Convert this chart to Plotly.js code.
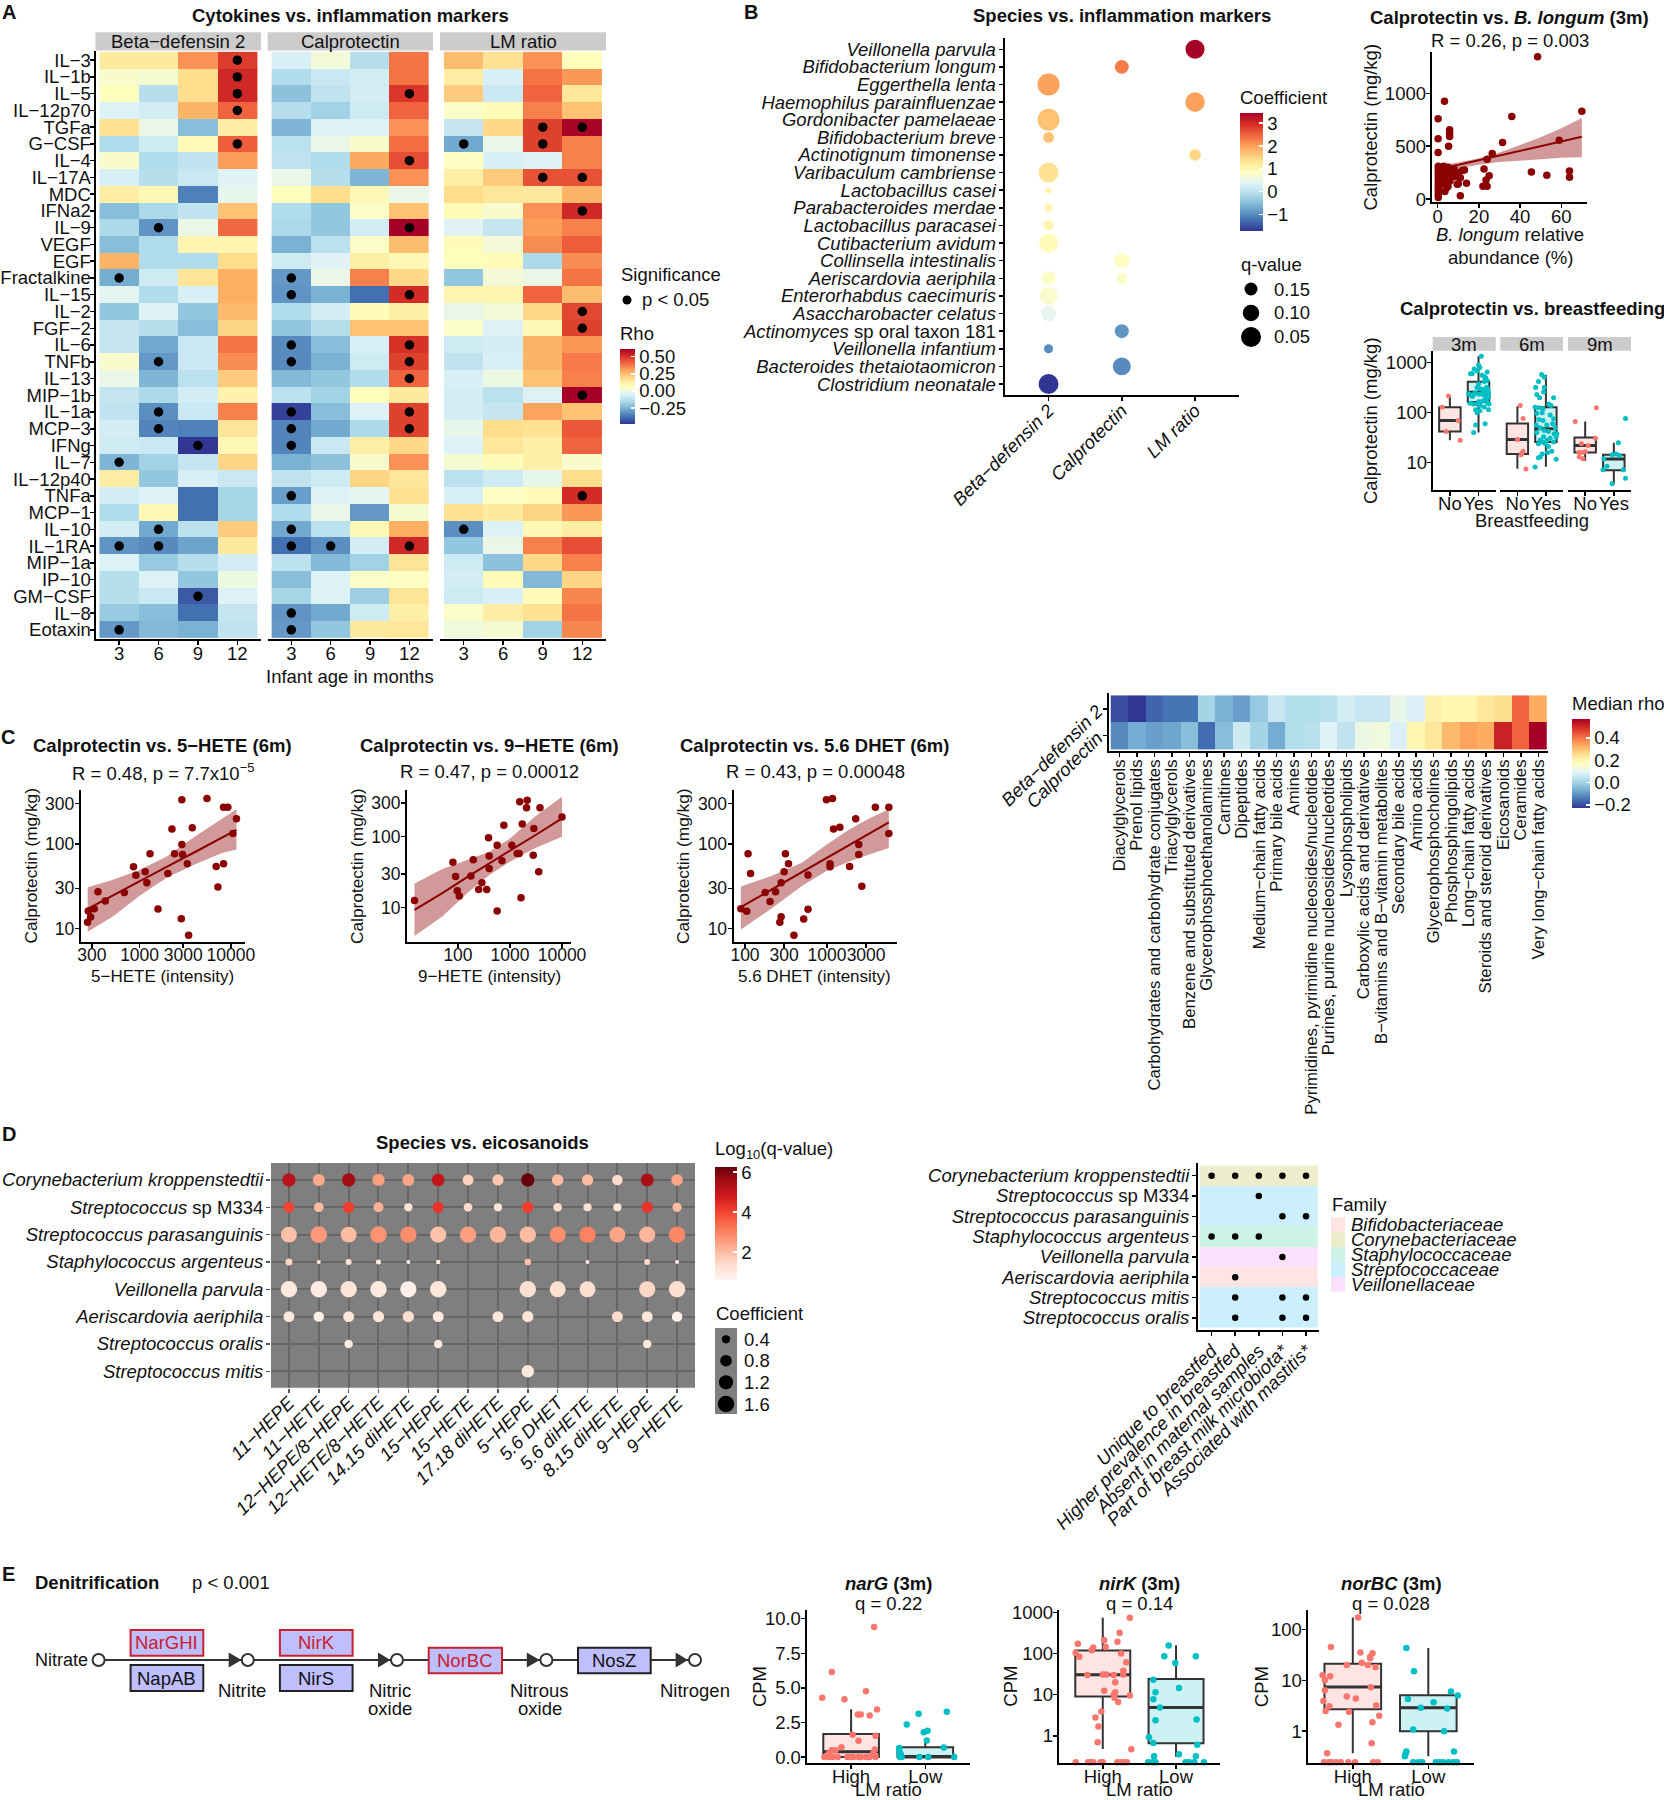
<!DOCTYPE html>
<html><head><meta charset="utf-8">
<script src="https://cdn.plot.ly/plotly-3.0.1.min.js"></script>
<style>html,body{margin:0;padding:0;background:#fff}</style></head>
<body><div id="chart" style="width:1664px;height:1800px"></div>
<script>
// ---------- Panel A data ----------
const cytokines=["IL−3","IL−1b","IL−5","IL−12p70","TGFa","G−CSF","IL−4","IL−17A","MDC","IFNa2","IL−9","VEGF","EGF","Fractalkine","IL−15","IL−2","FGF−2","IL−6","TNFb","IL−13","MIP−1b","IL−1a","MCP−3","IFNg","IL−7","IL−12p40","TNFa","MCP−1","IL−10","IL−1RA","MIP−1a","IP−10","GM−CSF","IL−8","Eotaxin"];
const ages=["3","6","9","12"];
const rhoBD=[[.14,.14,.33,.48],[.04,.03,.18,.52],[.07,-.13,.18,.52],[-.05,-.07,.27,.41],[.17,-.01,-.22,.13],[-.14,-.08,.08,.42],[.04,-.14,-.11,.31],[-.06,-.13,-.09,-.04],[.13,.09,-.35,-.02],[-.22,-.15,-.11,.24],[-.15,-.31,-.01,.4],[-.22,-.14,.1,.1],[.27,-.14,-.14,.18],[-.26,-.08,.16,.28],[-.03,-.14,-.06,.28],[-.2,-.05,-.2,.26],[-.1,-.13,-.22,.2],[-.1,-.27,-.09,.38],[.04,-.3,-.09,.34],[-.01,-.24,-.12,.22],[-.1,-.15,-.07,.11],[-.11,-.32,-.09,.36],[-.07,-.34,-.35,.16],[-.08,-.09,-.48,.09],[-.24,-.17,-.1,.2],[.13,-.2,-.06,-.09],[-.07,-.05,-.38,-.16],[-.14,.09,-.38,-.16],[-.07,-.27,-.12,.22],[-.31,-.33,-.28,.14],[-.05,-.19,-.13,-.07],[-.13,-.05,-.2,0],[-.13,-.09,-.42,-.05],[-.19,-.22,-.38,-.1],[-.3,-.23,-.25,-.11]];
const rhoCal=[[-.06,.02,-.13,.38],[-.14,-.09,-.07,.38],[-.21,-.11,-.07,.49],[-.13,-.17,-.08,.41],[-.24,-.05,-.05,.33],[-.12,-.01,.04,.39],[-.11,-.14,.29,.45],[-.01,-.13,-.24,.33],[.07,.18,.09,-.01],[-.14,-.2,.05,.24],[-.15,-.2,-.07,.61],[-.25,-.12,.05,.25],[-.08,-.04,.12,.09],[-.3,-.01,.36,.19],[-.31,-.25,-.38,.51],[-.14,-.07,.08,.12],[-.2,-.13,.24,.24],[-.33,-.22,-.06,.5],[-.33,-.25,-.08,.47],[-.23,-.2,-.14,.41],[-.12,-.17,.07,.14],[-.46,-.22,-.05,.47],[-.34,-.27,-.15,.47],[-.34,-.09,.12,.19],[-.25,-.21,.04,.33],[-.11,-.08,.2,.15],[-.29,-.05,-.03,.17],[-.14,-.01,-.3,.03],[-.27,-.12,.09,.28],[-.38,-.32,-.07,.52],[-.12,-.23,-.17,.16],[-.22,-.05,.05,.06],[-.16,-.05,-.18,.16],[-.31,-.27,-.08,.12],[-.3,-.2,.14,.15]];
const rhoLM=[[.25,.17,.33,.07],[.13,-.06,.38,.32],[.22,-.09,.41,.15],[.05,.08,.36,.24],[-.1,.19,.47,.6],[-.27,-.01,.47,.36],[.06,-.06,-.05,.36],[.12,.22,.44,.44],[.18,.15,.14,.27],[.08,.04,.33,.52],[-.04,-.1,.31,.36],[.08,.02,.34,.42],[.07,.08,-.15,.34],[-.2,.02,-.01,.38],[.1,.1,.41,.25],[-.01,.02,.19,.46],[.05,-.05,.09,.47],[-.08,-.07,.27,.32],[-.11,-.06,.27,.37],[-.06,0,.24,.36],[-.07,-.12,-.05,.61],[-.07,-.1,.3,.24],[-.02,.18,.17,.43],[-.05,.15,.12,.41],[.03,.08,.12,.04],[-.12,-.08,-.02,.18],[-.06,.06,.08,.51],[.17,.14,.2,.32],[-.32,-.05,.09,.13],[-.2,-.01,.36,.45],[-.08,-.21,.19,.36],[-.07,.08,-.23,.2],[-.08,-.06,.08,.35],[.05,.13,.17,.38],[.01,.03,-.17,.35]];
const sigBD=[["IL−3","12"],["IL−1b","12"],["IL−5","12"],["IL−12p70","12"],["G−CSF","12"],["IL−9","6"],["Fractalkine","3"],["TNFb","6"],["IL−1a","6"],["MCP−3","6"],["IFNg","9"],["IL−7","3"],["IL−10","6"],["IL−1RA","3"],["IL−1RA","6"],["GM−CSF","9"],["Eotaxin","3"]];
const sigCal=[["IL−5","12"],["IL−4","12"],["IL−9","12"],["Fractalkine","3"],["IL−15","3"],["IL−15","12"],["IL−6","3"],["IL−6","12"],["TNFb","3"],["TNFb","12"],["IL−13","12"],["IL−1a","3"],["IL−1a","12"],["MCP−3","3"],["MCP−3","12"],["IFNg","3"],["TNFa","3"],["IL−10","3"],["IL−1RA","3"],["IL−1RA","6"],["IL−1RA","12"],["IL−8","3"],["Eotaxin","3"]];
const sigLM=[["TGFa","9"],["TGFa","12"],["G−CSF","3"],["G−CSF","9"],["IL−17A","9"],["IL−17A","12"],["IFNa2","12"],["IL−2","12"],["FGF−2","12"],["MIP−1b","12"],["TNFa","12"],["IL−10","3"]];
// ---------- Panel B data ----------
const speciesB=["Veillonella parvula","Bifidobacterium longum","Eggerthella lenta","Haemophilus parainfluenzae","Gordonibacter pamelaeae","Bifidobacterium breve","Actinotignum timonense","Varibaculum cambriense","Lactobacillus casei","Parabacteroides merdae","Lactobacillus paracasei","Cutibacterium avidum","Collinsella intestinalis","Aeriscardovia aeriphila","Enterorhabdus caecimuris","Asaccharobacter celatus","Actinomyces sp oral taxon 181","Veillonella infantium","Bacteroides thetaiotaomicron","Clostridium neonatale"];
const markersB=["Beta−defensin 2","Calprotectin","LM ratio"];
const bubSpecies=["Veillonella parvula","Bifidobacterium longum","Eggerthella lenta","Haemophilus parainfluenzae","Gordonibacter pamelaeae","Bifidobacterium breve","Actinotignum timonense","Varibaculum cambriense","Lactobacillus casei","Parabacteroides merdae","Lactobacillus paracasei","Cutibacterium avidum","Collinsella intestinalis","Aeriscardovia aeriphila","Aeriscardovia aeriphila","Enterorhabdus caecimuris","Asaccharobacter celatus","Actinomyces sp oral taxon 181","Veillonella infantium","Bacteroides thetaiotaomicron","Clostridium neonatale"];
const bubMarker=["LM ratio","Calprotectin","Beta−defensin 2","LM ratio","Beta−defensin 2","Beta−defensin 2","LM ratio","Beta−defensin 2","Beta−defensin 2","Beta−defensin 2","Beta−defensin 2","Beta−defensin 2","Calprotectin","Beta−defensin 2","Calprotectin","Beta−defensin 2","Beta−defensin 2","Calprotectin","Beta−defensin 2","Calprotectin","Beta−defensin 2"];
const bubCoef=[3.46,2.3,2.0,2.0,1.7,1.7,1.5,1.35,1.1,1.05,1.05,.95,.85,.8,.8,.75,.45,-.9,-1.0,-1.0,-1.71];
const bubQ=[.064,.136,.02,.056,.02,.18,.17,.05,.25,.22,.19,.064,.12,.136,.18,.08,.12,.136,.207,.08,.05];
const longumPts=[[48.5,1345],[3.3,925],[.2,760],[70,830],[36,780],[5.8,655],[5.8,625],[5.8,590],[.2,570],[5.3,500],[.2,440],[31.5,535],[26.5,430],[24,375],[59,555],[22.5,285],[45.5,255],[53,225],[64,265],[64,205],[25,220],[23.5,180],[22,120],[24,120],[14,150],[11,30],[10,145],[9.5,140],[13,275],[12,270],[10,250],[9,240],[8,285],[7,270],[7,220],[6,170],[5,120],[4.5,110],[3.5,70],[3,310],[4,290],[5,300],[6,260],[2,280],[2,230],[2,180],[1,290],[1,240],[1,190],[1,130],[.3,310],[.3,280],[.3,250],[.3,220],[.3,190],[.3,160],[.3,130],[.3,100],[.3,70],[.3,40],[.3,15],[3,200],[3.5,150],[8,210],[4,230],[11,200]];
const longumFitX=[0,10,20,30,40,50,60,70];
const longumFit=[280,324,368,412,456,500,544,588];
const longumHi=[320,345,385,440,510,585,670,765];
const longumLo=[240,290,325,350,365,375,390,395];
// box stats: low, q1, median, q3, high
const bf3NoBox=[28,42,70,128,215], bf3YesBox=[40,163,255,417,1340];
const bf6NoBox=[7.6,15,29,61,135], bf6YesBox=[8.3,26,48,128,575];
const bf9NoBox=[11,16,22,32,67], bf9YesBox=[3.8,7.1,11.8,14.5,25];
const bf3NoPts=[[.95,215],[.73,128],[1.29,70],[.87,42],[1.36,28]];
const bf3YesPts=[[2.1,1340],[2,900],[2.05,800],[1.85,750],[1.95,680],[1.72,600],[1.78,600],[2.3,650],[2.12,560],[2.2,530],[2.25,500],[2.3,440],[2.2,420],[2,380],[1.95,320],[2.05,300],[2.28,320],[2.33,300],[2.15,290],[2.25,260],[2.35,250],[1.88,250],[1.65,240],[1.7,230],[1.78,210],[1.85,235],[2.02,235],[2.1,240],[2.18,230],[2.25,215],[2.35,210],[2.3,190],[2.2,180],[2.1,165],[2.3,160],[2.37,150],[2,165],[1.82,150],[1.7,155],[1.95,150],[2.05,140],[2.2,130],[2.35,115],[1.9,115],[2.05,110],[1.95,100],[1.9,57],[2.23,60],[1.83,40]];
const bf6NoPts=[[1.1,140],[1.2,77],[1,29],[1.2,17],[1.13,14.5],[1.15,15.5],[1.3,7.5]];
const bf6YesPts=[[1.85,580],[1.74,420],[1.94,510],[1.64,320],[1.94,320],[1.92,260],[1.68,230],[1.78,200],[2.27,200],[2.1,150],[2.18,140],[1.62,128],[1.76,125],[1.9,120],[1.68,97],[1.87,100],[2.15,90],[2.27,76],[1.76,73],[1.9,70],[1.66,57],[2.03,57],[1.8,50],[2.23,60],[2.33,50],[1.68,40],[1.94,44],[2.29,38],[2.38,38],[2.09,42],[1.92,33],[2.15,31],[2.36,33],[1.8,28],[2.03,28],[1.87,26],[2.27,26],[1.98,24],[1.74,24],[2.09,21],[2.21,17],[2.06,16],[1.87,15],[1.8,13],[1.74,12.5],[2.36,11.7],[1.62,8.2]];
const bf9NoPts=[[1.39,125],[.65,67],[1.36,31],[.87,24],[1.1,22],[.78,16],[.89,16],[1.01,16.5],[.79,13],[.92,12]];
const bf9YesPts=[[2.41,77],[2.16,25],[1.94,14.5],[2.08,15],[2.2,14],[1.65,12],[1.76,8.5],[1.62,7.2],[2.33,7.2],[2.41,4.9],[1.94,3.8]];
// ---------- Panel C data ----------
const hete5Pts=[[2900,333],[5470,346],[8300,272],[9250,272],[11500,199],[10500,133],[3770,156],[2260,151],[2900,99],[1300,76.6],[2410,76.6],[2950,75],[857,54],[3330,58.5],[8300,58.5],[6890,54.4],[911,42.9],[1150,47],[2040,44.8],[1200,35],[7200,31],[350,27.4],[680,26.7],[421,21.3],[319,17.2],[1590,17.1],[274,16.2],[291,13.8],[2860,13.1],[269,11.9],[3440,8.4]];
const hete5FitX=[270,500,1000,2000,4000,8000,11500];
const hete5Fit=[17.2,24.6,36.2,54,80,119,147];
const hete5Hi=[30.8,37.5,49.4,71.9,122,200,258];
const hete5Lo=[9.2,13.8,24.6,40.2,57.5,78.5,86];
const hete9Pts=[[1540,311],[2140,325],[2080,256],[3770,256],[10000,189],[2880,131],[1720,151],[762,145],[387,97],[566,75.6],[1084,75.6],[1500,58],[1380,58],[398,53.5],[2800,55],[197,47.4],[703,46],[80,43.5],[398,35.8],[90,27.4],[177,28],[3570,32],[288,22.5],[250,18],[357,18],[97,17.3],[106,14.6],[1630,13.8],[14.6,12.6],[566,9]];
const hete9FitX=[14.6,50,150,400,1000,3000,10000];
const hete9Fit=[9.3,16,27,42.6,63.6,104,181];
const hete9Hi=[22,35,47,61.5,94.6,191,366];
const hete9Lo=[4,7.5,16,28.8,44.5,68.6,100];
const dhetPts=[[984,333],[1167,346],[3890,272],[5680,272],[5680,133],[2240,199],[1436,158],[1200,151],[2440,99],[2440,75],[311,76.6],[109,76.6],[339,58.5],[1090,58.5],[1090,54],[1888,54.4],[117,45],[300,47],[587,43],[276,35],[2660,31.7],[176,26.7],[236,27.4],[202,21],[89,17.2],[105,16.1],[587,17],[276,13.9],[520,13],[266,11.9],[395,8.4]];
const dhetFitX=[89,209,494,984,1954,3270,5680];
const dhetFit=[18,28.9,46.4,68,99,132,180];
const dhetHi=[31.6,42,60,98,153,200,258];
const dhetLo=[9.8,17.2,32,48,63,75,90];
// ---------- Metabolite heat data ----------
const metabClasses=["Diacylglycerols","Prenol lipids","Carbohydrates and carbohydrate conjugates","Triacylglycerols","Benzene and substituted derivatives","Glycerophosphoethanolamines","Carnitines","Dipeptides","Medium−chain fatty acids","Primary bile acids","Amines","Pyrimidines, pyrimidine nucleosides/nucleotides","Purines, purine nucleosides/nucleotides","Lysophospholipids","Carboxylic acids and derivatives","B−vitamins and B−vitamin metabolites","Secondary bile acids","Amino acids","Glycerophosphocholines","Phosphosphingolipids","Long−chain fatty acids","Steroids and steroid derivatives","Eicosanoids","Ceramides","Very long−chain fatty acids"];
const metabMarkers=["Beta−defensin 2","Calprotectin"];
const medBD=[-.2,-.23,-.17,-.15,-.15,0,-.06,-.09,-.02,.05,.02,.02,.03,.07,.05,.05,.11,.08,.2,.19,.19,.23,.25,.42,.33];
const medCal=[-.12,-.07,-.09,-.08,-.04,-.16,-.04,.06,0,-.07,.02,.03,.09,.04,.12,.13,.08,.19,.23,.31,.34,.33,.51,.42,.567];
// ---------- Panel D data ----------
const speciesD=["Corynebacterium kroppenstedtii","Streptococcus sp M334","Streptococcus parasanguinis","Staphylococcus argenteus","Veillonella parvula","Aeriscardovia aeriphila","Streptococcus oralis","Streptococcus mitis"];
const eicosanoids=["11−HEPE","11−HETE","12−HEPE/8−HEPE","12−HETE/8−HETE","14.15 diHETE","15−HEPE","15−HETE","17.18 diHETE","5−HEPE","5.6 DHET","5.6 diHETE","8.15 diHETE","9−HEPE","9−HETE"];
const _=null;
const logQ=[[5.2,2.3,5.6,2.5,2.4,5,1.6,1.8,6.26,2,2,1.4,5.5,2.4],[4,2,4.1,2.2,1.2,4.3,1.4,1.2,4.1,1.4,1.3,1.2,4.3,2],[1.9,2.6,2,2.7,2.8,1.9,2.5,2.1,2,2.8,3,2.4,2.1,2.9],[1.5,.9,1.2,.9,.9,.9,_,_,1.9,_,.8,_,1.4,.8],[1,.95,1.2,1,.8,1.1,_,_,1.3,1.3,1.3,_,1.5,1.3],[1,.8,1.1,1.1,1.3,1,_,1.1,1.2,_,_,1.4,1.1,.8],[_,_,.9,_,_,1,_,_,_,_,_,_,1,_],[_,_,_,_,_,_,_,_,1,_,_,_,_,_]];
const coefD=[[1.05,.85,1.05,.9,.85,.95,.7,.75,1.05,.8,.75,.65,1,.8],[.7,.55,.75,.6,.4,.75,.45,.4,.75,.45,.4,.4,.75,.5],[1.5,1.65,1.5,1.65,1.6,1.55,1.6,1.6,1.6,1.55,1.6,1.5,1.55,1.6],[.29,.095,.21,.15,.095,.12,_,_,.25,_,.095,_,.21,.095],[1.6,1.6,1.6,1.6,1.55,1.6,_,_,1.6,1.5,1.5,_,1.55,1.6],[.7,.65,.7,.75,.75,.7,_,.7,.75,_,_,.7,.7,.65],[_,_,.43,_,_,.43,_,_,_,_,_,_,.43,_],[_,_,_,_,_,_,_,_,.92,_,_,_,_,_]];
const speciesF=["Corynebacterium kroppenstedtii","Streptococcus sp M334","Streptococcus parasanguinis","Staphylococcus argenteus","Veillonella parvula","Aeriscardovia aeriphila","Streptococcus mitis","Streptococcus oralis"];
const features=["Unique to breastfed","Higher prevalence in breastfed","Absent in maternal samples","Part of breast milk microbiota*","Associated with mastitis*"];
const families=["Bifidobacteriaceae","Corynebacteriaceae","Staphylococcaceae","Streptococcaceae","Veillonellaceae"];
const speciesFamily=[1,3,3,2,4,0,3,3];
const featureHits=[[1,1,1,1,1],[0,0,1,0,0],[0,0,0,1,1],[1,1,1,0,0],[0,0,0,1,0],[0,1,0,0,0],[0,1,0,1,1],[0,1,0,1,1]];
// ---------- Panel E data ----------
const narGHighBox=[0,0,.38,1.67,3.45], narGLowBox=[0,0,0,.7,1.15];
const nirKHighBox=[.48,9.1,30.7,118,741], nirKLowBox=[.31,.66,4.9,24,159];
const norBCHighBox=[.37,2.7,7.4,21,170], norBCLowBox=[.32,1,2.9,5.06,43];
const narGHighPts=[[1.31,9.4],[.74,6.14],[.61,4.29],[.91,4.17],[1.2,4.76],[1.35,3.44],[1.09,3.08],[1.13,3.08],[1.25,3],[1.02,1.61],[1.33,1.54],[1.1,1.18],[.87,.71],[1.32,.55],[.74,.5],[.79,.5],[.7,.26],[1.3,.3],[.64,0],[.7,0],[.75,0],[.82,0],[.95,0],[1,0],[1.03,0],[1.1,0],[1.13,0],[1.2,0],[1.22,0],[1.25,0],[1.33,0]];
const narGLowPts=[[2.29,3.27],[1.91,3.13],[1.75,2.35],[1.98,1.8],[2.03,1.9],[2.02,1.2],[2.25,.69],[1.65,.66],[1.65,.38],[1.67,.2],[1.66,0],[1.68,0],[1.92,0],[2.04,0],[2.39,0]];
const nirKHighPts=[[1.37,741],[1.23,319],[1.2,192],[1.02,211],[.66,172],[1.04,145],[.87,140],[.85,120],[.63,104],[.68,83],[1.25,100],[1.32,61],[1.28,38],[.79,30],[1.28,31],[1,31],[1.05,31],[1.15,30],[1.17,20],[1.02,12.5],[1.17,11.4],[1.15,10],[1.37,9.6],[1.16,8.4],[1.21,6.6],[.98,3.9],[.9,2.8],[.94,1.7],[.93,.7],[1.39,.47],[.63,.23],[.8,.23],[.83,.23],[.87,.23],[.97,.23],[1,.23],[1.2,.23],[1.25,.23],[1.28,.23],[1.33,.23]];
const nirKLowPts=[[1.9,156],[1.84,86],[2.27,86],[1.99,59],[1.69,23],[2.04,14.6],[1.72,11.4],[1.69,7.7],[1.78,4.9],[1.72,2.4],[2.28,2.5],[1.63,.93],[1.69,.67],[2.29,.61],[2.04,.36],[1.7,.32],[2.27,.32],[1.62,.23],[1.68,.23],[1.72,.23],[2.13,.23],[2.18,.23],[2.25,.23],[2.38,.23]];
const norBCHighPts=[[1.07,170],[.71,45],[1.1,35],[1.26,34],[1.23,29],[1.23,27],[1.12,22],[.92,20],[1.2,20],[1.3,18],[.6,12.5],[.7,12],[.63,10],[.63,6.4],[1.24,7.3],[.92,4.8],[1.04,4.4],[.61,3.9],[.69,3.1],[1.31,3.2],[.64,2.5],[.95,2.4],[1.35,2],[1.26,1.5],[.81,1.33],[1.25,.58],[.66,.37],[.62,.245],[.68,.245],[.72,.245],[.78,.245],[.84,.245],[.94,.245],[1.03,.245],[1.27,.245],[1.33,.245]];
const norBCLowPts=[[1.71,43],[1.81,15],[2.3,6],[2.39,5],[1.73,4.3],[2.07,3.7],[1.9,2.9],[2.25,2.8],[1.8,1.08],[2.21,1],[2.34,.4],[1.71,.4],[1.7,.36],[1.69,.32],[1.8,.245],[1.87,.245],[1.92,.245],[2.1,.245],[2.15,.245],[2.2,.245],[2.27,.245],[2.33,.245],[2.38,.245]];

// ---------- helpers ----------
const W=1664,H=1800,FONT='"Liberation Sans",Arial,Helvetica,sans-serif',INK='#111',FS=18.5;
const RDYLBU=['#313695','#4575b4','#74add1','#abd9e9','#e0f3f8','#ffffbf','#fee090','#fdae61','#f46d43','#d73027','#a50026'];
const REDS=['#fff5f0','#fee0d2','#fcbba1','#fc9272','#fb6a4a','#ef3b2c','#cb181d','#a50f15','#67000d'];
const scale=a=>a.map((c,i)=>[i/(a.length-1),c]);
const X=x=>x/W, Y=y=>1-y/H;
const traces=[],shapes=[],annotations=[],layout={};
const COMMON={showgrid:false,zeroline:false,showline:true,linecolor:'#000',linewidth:2,ticks:'outside',ticklen:4,tickwidth:1.5,tickcolor:'#000',tickangle:0,tickfont:{size:FS,color:INK,family:FONT}};
function axes(i,[l,r,t,b],xo,yo){
  const s=i===1?'':i;
  layout['xaxis'+s]=Object.assign({},COMMON,{domain:[X(l),X(r)],anchor:'y'+s,ticklabelstandoff:-8},xo);
  layout['yaxis'+s]=Object.assign({},COMMON,{domain:[Y(b),Y(t)],anchor:'x'+s,ticklabelstandoff:-4},yo);
  return {xaxis:'x'+s,yaxis:'y'+s};
}
const NOY={visible:false};
function T(x,y,text,o={}){
  annotations.push({xref:'paper',yref:'paper',x:X(x),y:Y(y),text:o.bold?`<b>${text}</b>`:text,showarrow:false,xanchor:o.anchor||'center',yanchor:'middle',textangle:o.rot||0,font:{size:o.size||FS,color:o.color||INK,family:FONT},borderpad:0,align:'center'});
}
function rect(x0,x1,y0,y1,fill,line,lw,layer){
  shapes.push({type:'rect',xref:'paper',yref:'paper',x0:X(x0),x1:X(x1),y0:Y(y0),y1:Y(y1),fillcolor:fill,line:{color:line||'rgba(0,0,0,0)',width:line?(lw||2):0},layer:layer||'below'});
}
function circle(cx,cy,d,fill,line){
  shapes.push({type:'circle',xref:'paper',yref:'paper',x0:X(cx-d/2),x1:X(cx+d/2),y0:Y(cy-d/2),y1:Y(cy+d/2),fillcolor:fill,line:{color:line||fill,width:line?2:0},layer:'above'});
}
function seg(x0,x1,y){shapes.push({type:'line',xref:'paper',yref:'paper',x0:X(x0),x1:X(x1),y0:Y(y),y1:Y(y),line:{color:'#333',width:2},layer:'above'});}
function tri(x0,x1,y,h){shapes.push({type:'path',xref:'paper',yref:'paper',path:`M ${X(x0)} ${Y(y-h)} L ${X(x1)} ${Y(y)} L ${X(x0)} ${Y(y+h)} Z`,fillcolor:'#333',line:{width:0},layer:'above'});}
const ital=n=>n.includes(' sp ')?n.replace(/^(\S+) sp (.*)$/,'<i>$1</i> sp $2'):`<i>${n}</i>`;
function cbar(x,top,bottom,thick,vals,labels,title,titleRoom){
  return {x:X(x),xanchor:'left',y:Y(bottom),yanchor:'bottom',len:bottom-top+(titleRoom||26),lenmode:'pixels',thickness:thick,thicknessmode:'pixels',outlinewidth:0,borderwidth:0,xpad:0,ypad:0,ticks:'inside',ticklen:4,tickcolor:'#fff',tickwidth:1.5,tickmode:'array',tickvals:vals,ticktext:labels,tickfont:{size:FS,color:INK,family:FONT},title:{text:title,side:'top',font:{size:FS,color:INK,family:FONT}}};
}
const xy=p=>({x:p.map(a=>a[0]),y:p.map(a=>a[1])});
function scatterFit(ax,pts,fx,fy,hi,lo){
  traces.push(Object.assign({type:'scatter',mode:'lines',x:fx.concat(fx.slice().reverse()),y:hi.concat(lo.slice().reverse()),fill:'toself',fillcolor:'rgba(139,0,0,.4)',line:{width:0},showlegend:false},ax));
  traces.push(Object.assign({type:'scatter',mode:'lines',x:fx,y:fy,line:{color:'#8B0000',width:2},showlegend:false},ax));
  traces.push(Object.assign({type:'scatter',mode:'markers',marker:{color:'#8B0000',size:7.5},showlegend:false,cliponaxis:false},xy(pts),ax));
}
const SALMON='#F8766D',TEAL='#00BFC4';
function boxWithPts(ax,pos,st,pts,col,fill,ms){
  traces.push(Object.assign({type:'box',x:[pos],lowerfence:[st[0]],q1:[st[1]],median:[st[2]],q3:[st[3]],upperfence:[st[4]],width:.75,whiskerwidth:0,fillcolor:fill,line:{color:'#333',width:2},boxpoints:false,showlegend:false},ax));
  traces.push(Object.assign({type:'scatter',mode:'lines',x:[pos-.375,pos+.375],y:[st[2],st[2]],line:{color:'#333',width:3},showlegend:false},ax));
  traces.push(Object.assign({type:'scatter',mode:'markers',marker:{color:col,size:ms},showlegend:false,cliponaxis:false},xy(pts),ax));
}
const F1='rgba(248,118,109,.2)',F2='rgba(0,191,196,.2)';

// ---------- Panel A ----------
T(9,12,'A',{bold:1,size:20});
T(350,16,'Cytokines vs. inflammation markers',{bold:1});
const aRange=[34.55,-.55], aBoxes=[[95.5,261],[267.7,433],[440,606]];
[[rhoBD,sigBD,'Beta−defensin 2'],[rhoCal,sigCal,'Calprotectin'],[rhoLM,sigLM,'LM ratio']].forEach(([z,sig,name],k)=>{
  const [l,r]=aBoxes[k];
  const ax=axes(k+1,[l,r,51,639],{type:'category',categoryorder:'array',categoryarray:ages,range:[-.6,3.6],ticklabelstandoff:-7},
    Object.assign({type:'category',categoryorder:'array',categoryarray:cytokines,range:aRange,ticklabelstandoff:-5},k?NOY:{tickmode:'array',tickvals:cytokines,ticktext:cytokines}));
  const t={type:'heatmap',x:ages,y:cytokines,z:z,zmin:-.48,zmax:.61,colorscale:scale(RDYLBU),showscale:k===0};
  if(k===0)t.colorbar=cbar(620,349,424,15,[.5,.25,0,-.25],['0.50','0.25','0.00','−0.25'],'Rho');
  traces.push(Object.assign(t,ax));
  traces.push(Object.assign({type:'scatter',mode:'markers',x:sig.map(s=>s[1]),y:sig.map(s=>s[0]),marker:{color:'#000',size:9.5},showlegend:false},ax));
  rect(l,r,32.3,50.5,'#CCCCCC');
  T((l+r)/2,42,name);
});
T(350,677,'Infant age in months');
T(620,274,'Significance',{anchor:'left'});
circle(627,300,9,'#000');
T(641,300,'p &lt; 0.05',{anchor:'left'});

// ---------- Panel B bubble ----------
T(751,12,'B',{bold:1,size:20});
T(1122,16,'Species vs. inflammation markers',{bold:1});
const sizeFromQ=q=>23.5-70*q;
let ax=axes(4,[1004.6,1239,37.8,394.6],{type:'category',categoryorder:'array',categoryarray:markersB,range:[-.6,2.6],tickangle:-45,tickmode:'array',tickvals:markersB,ticktext:markersB.map(ital)},
  {type:'category',categoryorder:'array',categoryarray:speciesB,range:[19.6,-.65],tickmode:'array',tickvals:speciesB,ticktext:speciesB.map(ital),ticklabelstandoff:-1});
traces.push(Object.assign({type:'scatter',mode:'markers',x:bubMarker,y:bubSpecies,showlegend:false,marker:{opacity:1,size:bubQ.map(sizeFromQ),color:bubCoef,cmin:-1.71,cmax:3.46,colorscale:scale(RDYLBU),line:{width:0},showscale:true,colorbar:cbar(1240,112.8,230.7,23,[3,2,1,0,-1],['3','2','1','0','−1'],'Coefficient')}},ax));
T(1240,264,'q-value',{anchor:'left'});
[[.15,289],[.10,313],[.05,337]].forEach(([q,y])=>{circle(1251,y,sizeFromQ(q),'#000');T(1273,y,q.toFixed(2),{anchor:'left'});});

// ---------- Panel B scatter ----------
T(1509,17,'Calprotectin vs. <i>B. longum</i> (3m)',{bold:1});
T(1510,40.7,'R = 0.26, p = 0.003');
ax=axes(5,[1431.7,1587,51.7,202.3],{range:[-2.9,72.5],tickmode:'array',tickvals:[0,20,40,60]},{range:[-31,1393],tickmode:'array',tickvals:[0,500,1000]});
scatterFit(ax,longumPts,longumFitX,longumFit,longumHi,longumLo);
T(1370,127.5,'Calprotectin (mg/kg)',{rot:-90});
T(1510,235,'<i>B. longum</i> relative');
T(1510,257,'abundance (%)');

// ---------- Panel B boxes ----------
T(1532,308,'Calprotectin vs. breastfeeding',{bold:1});
[[1432.7,1495.7,'3m',bf3NoBox,bf3NoPts,bf3YesBox,bf3YesPts],[1500.3,1563,'6m',bf6NoBox,bf6NoPts,bf6YesBox,bf6YesPts],[1568,1631,'9m',bf9NoBox,bf9NoPts,bf9YesBox,bf9YesPts]].forEach(([l,r,name,nb,np,yb,yp],k)=>{
  const a=axes(6+k,[l,r,350.7,490],{range:[.4,2.6],tickmode:'array',tickvals:[1,2],ticktext:['No','Yes']},
    Object.assign({type:'log',range:[.454,3.24],tickmode:'array',tickvals:[10,100,1000],ticktext:['10','100','1000']},k?NOY:{}));
  boxWithPts(a,1,nb,np,SALMON,F1,5);
  boxWithPts(a,2,yb,yp,TEAL,F2,5);
  rect(l,r,337,350.7,'#CCCCCC');
  T((l+r)/2,344.5,name);
});
T(1370,421,'Calprotectin (mg/kg)',{rot:-90});
T(1532,521,'Breastfeeding');

// ---------- Panel C ----------
T(8,737,'C',{bold:1,size:20});
const CS={tickfont:{size:17.5,color:INK,family:FONT}};
const CY={ticklabelstandoff:-3};
const logTicks=(vals)=>({tickmode:'array',tickvals:vals,ticktext:vals.map(String)});
ax=axes(9,[80.8,245,790,941.7],Object.assign({type:'log',range:[2.356,4.154]},logTicks([300,1000,3000,10000]),CS),Object.assign({type:'log',range:[.847,2.638]},logTicks([10,30,100,300]),CS,CY));
scatterFit(ax,hete5Pts,hete5FitX,hete5Fit,hete5Hi,hete5Lo);
T(162,745,'Calprotectin vs. 5−HETE (6m)',{bold:1});
T(163,771.7,'R = 0.48, p = 7.7x10<sup>−5</sup>');
T(162,976,'5−HETE (intensity)',{size:17});
T(30.6,866,'Calprotectin (mg/kg)',{rot:-90,size:17.3});
ax=axes(10,[407,570.7,790,941.7],Object.assign({type:'log',range:[1.02,4.167]},logTicks([100,1000,10000]),CS),Object.assign({type:'log',range:[.521,2.658]},logTicks([3,10,30,100,300]),CS,CY));
scatterFit(ax,hete9Pts,hete9FitX,hete9Fit,hete9Hi,hete9Lo);
T(489,745,'Calprotectin vs. 9−HETE (6m)',{bold:1});
T(489,771.7,'R = 0.47, p = 0.00012');
T(489,976,'9−HETE (intensity)',{size:17});
T(357,866,'Calprotectin (mg/kg)',{rot:-90,size:17.3});
ax=axes(11,[733.6,897,790,941.7],Object.assign({type:'log',range:[1.861,3.854]},logTicks([100,300,1000,3000]),CS),Object.assign({type:'log',range:[.847,2.638]},logTicks([10,30,100,300]),CS,CY));
scatterFit(ax,dhetPts,dhetFitX,dhetFit,dhetHi,dhetLo);
T(814.5,745,'Calprotectin vs. 5.6 DHET (6m)',{bold:1});
T(815,771.7,'R = 0.43, p = 0.00048');
T(814.5,976,'5.6 DHET (intensity)',{size:17});
T(683,866,'Calprotectin (mg/kg)',{rot:-90,size:17.3});

// ---------- Metabolite heat ----------
ax=axes(12,[1109,1548,693,750.7],{type:'category',categoryorder:'array',categoryarray:metabClasses,range:[-.6,24.55],tickangle:-90,ticklabelstandoff:-4,tickfont:{size:16.8,color:INK,family:FONT},tickmode:'array',tickvals:metabClasses,ticktext:metabClasses},
  {type:'category',categoryorder:'array',categoryarray:metabMarkers,range:[1.56,-.59],tickangle:-45,ticklabelstandoff:2,tickmode:'array',tickvals:metabMarkers,ticktext:metabMarkers.map(ital)});
traces.push(Object.assign({type:'heatmap',x:metabClasses,y:metabMarkers,z:[medBD,medCal],zmin:-.23,zmax:.567,colorscale:scale(RDYLBU),showscale:true,colorbar:cbar(1572,719,808.3,18,[.4,.2,0,-.2],['0.4','0.2','0.0','−0.2'],'Median rho')},ax));

// ---------- Panel D bubble ----------
T(9,1134,'D',{bold:1,size:20});
T(482.7,1142,'Species vs. eicosanoids',{bold:1});
rect(271,695,1163,1387.7,'#7F7F7F');
const sizeFromCoef=c=>13*Math.sqrt(c);
ax=axes(13,[271,695,1163,1387.7],{type:'category',categoryorder:'array',categoryarray:eicosanoids,range:[-.6,13.6],tickangle:-45,showline:false,showgrid:true,gridcolor:'#666',gridwidth:2,tickcolor:'#555',tickmode:'array',tickvals:eicosanoids,ticktext:eicosanoids.map(ital)},
  {type:'category',categoryorder:'array',categoryarray:speciesD,range:[7.6,-.62],showline:false,showgrid:true,gridcolor:'#666',gridwidth:2,tickcolor:'#555',ticklabelstandoff:-1,tickmode:'array',tickvals:speciesD,ticktext:speciesD.map(ital)});
const dx=[],dy=[],dc=[],ds=[];
speciesD.forEach((sp,i)=>eicosanoids.forEach((e,j)=>{if(logQ[i][j]!==null){dx.push(e);dy.push(sp);dc.push(logQ[i][j]);ds.push(sizeFromCoef(coefD[i][j]));}}));
traces.push(Object.assign({type:'scatter',mode:'markers',x:dx,y:dy,showlegend:false,marker:{opacity:1,size:ds,color:dc,cmin:.6,cmax:6.26,colorscale:scale(REDS),line:{width:0},showscale:true,colorbar:cbar(715,1172.3,1280,22,[6,4,2],['6','4','2'],'Log<sub>10</sub>(q-value)',34)}},ax));
T(715,1313,'Coefficient',{anchor:'left'});
rect(715,737,1328,1414,'#7F7F7F');
[[.4,1339.3],[.8,1360.7],[1.2,1382.3],[1.6,1404]].forEach(([c,y])=>{circle(726,y,sizeFromCoef(c),'#000');T(743,y,c.toFixed(1),{anchor:'left'});});

// ---------- Panel D features ----------
const famCols=['rgba(248,118,109,.2)','rgba(163,165,0,.2)','rgba(0,191,125,.2)','rgba(0,176,246,.2)','rgba(231,107,243,.2)'];
ax=axes(14,[1198,1319,1163,1330],{type:'category',categoryorder:'array',categoryarray:features,range:[-.575,4.55],tickangle:-45,ticklabelstandoff:-3,tickmode:'array',tickvals:features,ticktext:features.map(ital)},
  {type:'category',categoryorder:'array',categoryarray:speciesF,range:[7.6,-.625],ticklabelstandoff:-1,tickmode:'array',tickvals:speciesF,ticktext:speciesF.map(ital)});
traces.push(Object.assign({type:'heatmap',x:features,y:speciesF,z:speciesF.map((s,i)=>features.map(()=>speciesFamily[i])),zmin:0,zmax:4,showscale:false,
  colorscale:[[0,famCols[0]],[.125,famCols[0]],[.125,famCols[1]],[.375,famCols[1]],[.375,famCols[2]],[.625,famCols[2]],[.625,famCols[3]],[.875,famCols[3]],[.875,famCols[4]],[1,famCols[4]]]},ax));
const hx=[],hy=[];
speciesF.forEach((sp,i)=>features.forEach((f,j)=>{if(featureHits[i][j]){hx.push(f);hy.push(sp);}}));
traces.push(Object.assign({type:'scatter',mode:'markers',x:hx,y:hy,marker:{color:'#000',size:6.5},showlegend:false},ax));
T(1331,1204,'Family',{anchor:'left'});
families.forEach((f,i)=>{rect(1331,1345,1217.3+14.9*i,1217.3+14.9*(i+1),famCols[i]);T(1350,1224+15*i,`<i>${f}</i>`,{anchor:'left'});});

// ---------- Panel E pathway ----------
T(8,1574,'E',{bold:1,size:20});
T(34.4,1582,'Denitrification',{bold:1,anchor:'left'});
T(191,1582,'p &lt; 0.001',{anchor:'left'});
const RED='#C8202F',LILAC='#BFBFFF',PY=1660;
seg(98.6,247.8,PY);seg(247.8,397,PY);seg(397,546.4,PY);seg(546.4,695,PY);
[[228.7,241.6],[378,390.4],[526.8,539.7],[675.6,688]].forEach(([a,b])=>tri(a,b,PY,7.5));
[98.6,247.8,397,546.4,695].forEach(c=>circle(c,PY,12,'#fff','#333'));
function enzyme(x0,x1,y0,y1,name,col){
  shapes.push({type:'rect',xref:'paper',yref:'paper',x0:X(x0),x1:X(x1),y0:Y(y0),y1:Y(y1),fillcolor:LILAC,line:{color:col,width:2},layer:'above'});
  T((x0+x1)/2,(y0+y1)/2,name,{color:col==='#222'?INK:RED});
}
enzyme(130.6,203.3,1630,1655.7,'NarGHI',RED);
enzyme(130.6,203.3,1665,1691,'NapAB','#222');
enzyme(279.9,352.6,1630,1655.7,'NirK',RED);
enzyme(279.9,352.6,1665,1691,'NirS','#222');
enzyme(428.7,502,1647.7,1673.3,'NorBC',RED);
enzyme(578,650.7,1647.7,1673.3,'NosZ','#222');
T(34.4,1660,'Nitrate',{anchor:'left',size:18});
T(241.6,1690,'Nitrite');T(390.4,1690,'Nitric');T(390.4,1708,'oxide');T(539.7,1690,'Nitrous');T(539.7,1708,'oxide');T(694.7,1690,'Nitrogen');

// ---------- Panel E boxes ----------
const hl=(k,box,rangeY,yo)=>axes(k,box,{range:[.4,2.6],tickmode:'array',tickvals:[1,2],ticktext:['High','Low']},Object.assign({range:rangeY},yo));
ax=hl(15,[806.6,969.8,1610,1763],[-.43,10.63],{tickmode:'array',tickvals:[0,2.5,5,7.5,10],ticktext:['0.0','2.5','5.0','7.5','10.0']});
boxWithPts(ax,1,narGHighBox,narGHighPts,SALMON,F1,6.5);
boxWithPts(ax,2,narGLowBox,narGLowPts,TEAL,F2,6.5);
ax=hl(16,[1058.8,1220,1610,1763],[-.659,3.057],Object.assign({type:'log'},logTicks([1,10,100,1000])));
boxWithPts(ax,1,nirKHighBox,nirKHighPts,SALMON,F1,6.5);
boxWithPts(ax,2,nirKLowBox,nirKLowPts,TEAL,F2,6.5);
ax=hl(17,[1307.5,1473.6,1610,1763],[-.625,2.38],Object.assign({type:'log'},logTicks([1,10,100])));
boxWithPts(ax,1,norBCHighBox,norBCHighPts,SALMON,F1,6.5);
boxWithPts(ax,2,norBCLowBox,norBCLowPts,TEAL,F2,6.5);
[[888.5,'narG','q = 0.22',759.4],[1139,'nirK','q = 0.14',1011],[1391,'norBC','q = 0.028',1261.5]].forEach(([cx,g,q,yx])=>{
  T(cx,1583,`<i>${g}</i> (3m)`,{bold:1});
  T(cx,1603,q);
  T(yx,1686.7,'CPM',{rot:-90});
  T(cx,1789.5,'LM ratio');
});

Object.assign(layout,{width:W,height:H,margin:{l:0,r:0,t:0,b:0,pad:0,autoexpand:false},paper_bgcolor:'#fff',plot_bgcolor:'rgba(0,0,0,0)',font:{family:FONT,size:FS,color:INK},showlegend:false,hovermode:false,boxmode:'overlay',shapes,annotations});
Plotly.newPlot('chart',traces,layout,{staticPlot:true,displayModeBar:false});
</script></body></html>
